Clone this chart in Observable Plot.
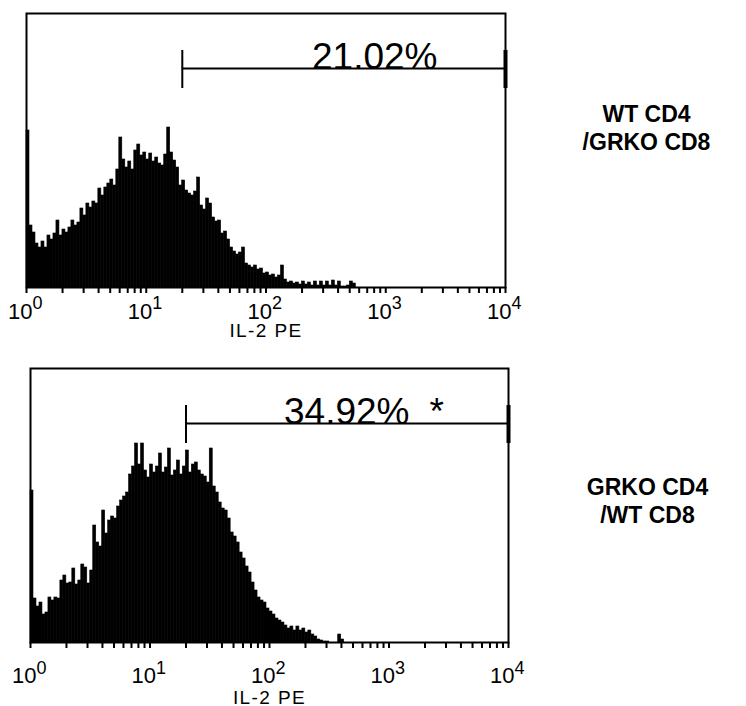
<!DOCTYPE html>
<html>
<head>
<meta charset="utf-8">
<script src="https://cdn.jsdelivr.net/npm/d3@7"></script>
<script src="https://cdn.jsdelivr.net/npm/@observablehq/plot@0.6"></script>
<style>
  html, body { margin: 0; padding: 0; background: #fff; }
  #chart svg { display: block; }
  [aria-label^="x-axis"] line, [aria-label^="x-axis"] path { stroke-width: 2px; }
</style>
</head>
<body>
<div id="chart"></div>
<script>
// ---- data ----
const panelNames = ["WT CD4\n/GRKO CD8", "GRKO CD4\n/WT CD8"];
const gatePercents = ["21.02%", "34.92%"];
const gateMarks = ["", "*"];
const gateStart = [20, 20];
const gateEnd = [10000, 10000];
const gateLevel = [219, 219];
const gateCapLow = [199, 199];
const gateCapHigh = [237, 237];
const exponents = [0, 1, 2, 3, 4];
const decades = [1, 10, 100, 1000];
const multipliers = [1, 2, 3, 4, 5, 6, 7, 8, 9];
const axisTitle = "IL-2 PE";
const channelsPerDecade = 40;

// counts per channel (log channels, 40 per decade, starting at 10^0)
const countsTop = [
  157,62,55,44,40,46,40,52,48,54,
  67,52,58,55,60,67,62,65,79,72,
  84,80,86,84,99,92,100,104,108,102,
  118,150,128,120,126,118,137,143,132,135,
  128,134,126,130,124,122,133,160,135,127,
  120,102,107,97,94,92,96,110,82,78,
  89,84,70,66,67,54,56,48,40,36,
  33,35,40,24,22,20,22,18,19,14,
  15,12,13,10,12,22,8,5,6,4,
  5,3,6,3,5,2,6,2,6,2,
  6,2,7,2,6,1,1,2,6,4,
  0
];
const countsBottom = [
  152,44,36,40,28,30,45,42,45,44,
  62,67,59,60,74,58,62,78,75,59,
  72,117,100,96,132,109,122,126,124,136,
  142,146,150,168,176,199,178,199,172,165,
  178,170,176,189,170,175,194,167,172,182,
  168,176,192,170,178,180,172,168,166,160,
  194,156,150,140,134,132,124,110,106,100,
  90,84,76,70,60,52,45,42,40,34,
  31,28,24,22,20,17,14,16,12,16,
  12,14,10,12,8,6,3,2,1,1,
  0,0,0,8,3,0
];
const panelCounts = [countsTop, countsBottom];

// ---- layout (positions / sizes) ----
const layout = [
  { height: 353, marginTop: 13, marginBottom: 66, marginLeft: 26, marginRight: 241,
    tenDy: 31, expDy: 21, titleDy: 49, pctDx: -68, starDx: -79, nameDx: 141, nameDy: 89 },
  { height: 353, marginTop: 15, marginBottom: 64, marginLeft: 30, marginRight: 238,
    tenDy: 40, expDy: 31, titleDy: 61, pctDx: -99, starDx: -79, nameDx: 139, nameDy: 107 }
];

const tickValues = decades.flatMap(d => multipliers.map(m => d * m)).concat([10000]);
const font = "'Liberation Sans', Arial, Helvetica, sans-serif";

function makePanel(k) {
  const L = layout[k];
  const bins = panelCounts[k].map((c, i) => ({
    x1: Math.pow(10, i / channelsPerDecade),
    x2: Math.pow(10, (i + 1) / channelsPerDecade),
    y: c
  }));
  const gate = [{ x1: gateStart[k], x2: gateEnd[k], y: gateLevel[k] }];
  const capL = [{ x: gateStart[k], y1: gateCapLow[k], y2: gateCapHigh[k] }];
  const capR = [{ x: gateEnd[k], y1: gateCapLow[k], y2: gateCapHigh[k] }];
  const pct = [{ x: gateEnd[k], y: gateLevel[k], t: gatePercents[k] }];
  const star = [{ x: gateEnd[k], y: gateLevel[k], t: gateMarks[k] }];

  const svg = Plot.plot({
    width: 746,
    height: L.height,
    marginTop: L.marginTop,
    marginBottom: L.marginBottom,
    marginLeft: L.marginLeft,
    marginRight: L.marginRight,
    style: { fontFamily: font, background: "white", color: "black", overflow: "visible", fontSize: "14px" },
    x: { type: "log", domain: [1, 10000], ticks: tickValues, tickSize: 6, tickFormat: () => "", label: null },
    y: { domain: [0, 274], axis: null },
    marks: [
      Plot.rectY(bins, { x1: "x1", x2: "x2", y: "y", fill: "black", stroke: "black", strokeWidth: 0.6 }),
      Plot.frame({ stroke: "black", strokeWidth: 2 }),
      Plot.ruleY(gate, { x1: "x1", x2: "x2", y: "y", stroke: "black", strokeWidth: 2 }),
      Plot.ruleX(capL, { x: "x", y1: "y1", y2: "y2", stroke: "black", strokeWidth: 2 }),
      Plot.ruleX(capR, { x: "x", y1: "y1", y2: "y2", stroke: "black", strokeWidth: 4 }),
      Plot.text(pct, { x: "x", y: "y", text: "t", textAnchor: "end", lineAnchor: "bottom",
        dx: L.pctDx, dy: 0, fontSize: 37, fill: "black" }),
      Plot.text(star, { x: "x", y: "y", text: "t", textAnchor: "start", lineAnchor: "bottom",
        dx: L.starDx, dy: 0, fontSize: 37, fill: "black" }),
      Plot.text(exponents, { x: d => Math.pow(10, d), text: () => "10", frameAnchor: "bottom",
        textAnchor: "end", lineAnchor: "bottom", dx: 6, dy: L.tenDy, fontSize: 22, fill: "black" }),
      Plot.text(exponents, { x: d => Math.pow(10, d), text: d => String(d), frameAnchor: "bottom",
        textAnchor: "start", lineAnchor: "bottom", dx: 6, dy: L.expDy, fontSize: 18, fill: "black" }),
      Plot.text([axisTitle], { frameAnchor: "bottom", lineAnchor: "bottom", dy: L.titleDy,
        fontSize: 19, fill: "black" }),
      Plot.text([panelNames[k]], { frameAnchor: "top-right", textAnchor: "middle", lineAnchor: "top",
        dx: L.nameDx, dy: L.nameDy, fontSize: 23, fontWeight: "bold", lineHeight: 1.2, fill: "black" })
    ]
  });
  // widen the axis title a little, as in the reference
  svg.querySelectorAll("text").forEach(t => {
    if (t.textContent === axisTitle) t.style.letterSpacing = "1.4px";
  });
  return svg;
}

const chart = document.getElementById("chart");
chart.appendChild(makePanel(0));
chart.appendChild(makePanel(1));
</script>
</body>
</html>
